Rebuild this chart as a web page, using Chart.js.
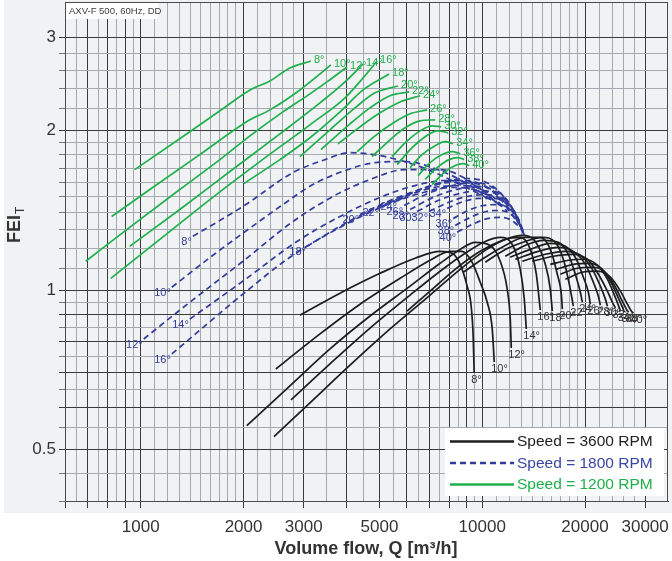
<!DOCTYPE html>
<html><head><meta charset="utf-8">
<script src="https://cdn.jsdelivr.net/npm/chart.js@4.4.0/dist/chart.umd.min.js"></script>
<style>html,body{margin:0;padding:0;background:#fff;}</style>
</head><body>
<canvas id="c" width="672" height="561" style="width:672px;height:561px;display:block"></canvas>
<script>
// ---- data (Q in m3/h, FEI_T) ----
const angles = [8,10,12,14,16,18,20,22,24,26,28,30,32,34,36,38,40];

// Speed = 3600 RPM
const q3600 = [
 [2926,3833,5021,6360,7529,8165,8617,9034,9282,9408,9472],
 [2488,3349,4387,5747,7038,8055,8734,9344,9866,10343,10699,10844],
 [2045,2735,3583,4693,6149,7529,8617,9536,10555,11292,11838,12081,12163],
 [2754,3583,4693,6149,7529,8914,10205,11292,12245,12925,13279,13460],
 [2455,3130,4101,5372,7038,8617,10205,11680,12925,13828,14401,14793],
 [6025,7038,8332,9866,11680,13101,14304,15302,15827,16042],
 [8794,10205,11680,13370,14793,15827,16593,17047,17163],
 [10205,11680,13370,14994,16372,17279,17994,18486],
 [11680,13370,15096,16705,17872,18738,19380,19644],
 [12081,13828,15827,17514,18865,19777,20456,20734],
 [12497,14596,16705,18486,20047,21159,21885,22182],
 [13101,15302,17514,19380,21016,22182,22945,23256],
 [14016,16152,18361,20318,21885,23256,24055,24548],
 [15827,17872,19911,21738,23256,24382,25049,25389],
 [16482,18486,20595,22484,23893,25049,25734,26085],
 [16932,18992,21159,23101,24548,25734,26440,26801],
 [17514,19644,21738,23732,25389,26618,27348,27720]
];
const fei3600 = [
 [0.897,0.987,1.076,1.149,1.184,1.174,1.119,1.018,0.933,0.819,0.698],
 [0.710,0.827,0.941,1.053,1.139,1.184,1.184,1.129,1.035,0.949,0.845,0.732],
 [0.555,0.660,0.775,0.894,1.018,1.124,1.194,1.231,1.215,1.134,1.004,0.882,0.778],
 [0.621,0.726,0.848,0.979,1.086,1.174,1.236,1.258,1.220,1.095,0.962,0.845],
 [0.529,0.613,0.722,0.845,0.979,1.095,1.189,1.247,1.258,1.194,1.072,0.917],
 [0.913,0.996,1.095,1.184,1.247,1.269,1.236,1.119,1.004,0.913],
 [1.081,1.154,1.215,1.258,1.258,1.194,1.072,0.983,0.921],
 [1.129,1.194,1.236,1.258,1.231,1.144,1.026,0.933],
 [1.159,1.215,1.242,1.231,1.169,1.072,0.991,0.949],
 [1.154,1.194,1.226,1.210,1.144,1.058,0.991,0.941],
 [1.144,1.184,1.205,1.184,1.119,1.035,0.974,0.937],
 [1.134,1.169,1.184,1.164,1.095,1.018,0.962,0.933],
 [1.134,1.159,1.169,1.144,1.072,0.996,0.949,0.925],
 [1.119,1.139,1.144,1.115,1.049,0.979,0.937,0.913],
 [1.095,1.119,1.124,1.095,1.031,0.966,0.929,0.909],
 [1.072,1.100,1.105,1.076,1.013,0.953,0.921,0.909],
 [1.049,1.081,1.086,1.058,0.996,0.941,0.913,0.905]
];

// Speed = 1800 RPM
const q1800 = [
 [1421,1991,2791,3464,4101,5021,6578,8617,10555],
 [1233,1627,2045,2608,3194,3965,4855,5945,7529,9219,10771],
 [1020,1392,1991,2791,3656,4693,5945,7529,9219,11066],
 [1392,1991,2867,3833,5021,6360,7788,9536,11292],
 [1233,1991,2735,3833,5194,6578,8055,9866,11523],
 [3068,3833,4855,6149,7529,8914,10555,11838],
 [4387,5372,6578,8055,9536,11066,12245],
 [5021,5945,7134,8502,10000,11445,12497],
 [5670,6578,7788,9095,10555,11838,12752],
 [5904,6943,8165,9472,10844,12081,12925],
 [6149,7182,8388,9731,11066,12245,13013],
 [6446,7429,8617,9933,11292,12412,13101],
 [6990,7947,9034,10275,11523,12581,13190],
 [7893,8794,9797,10844,11838,12666,13190],
 [8220,9095,10068,11217,12081,12838,13279],
 [8332,9219,10275,11292,12245,12925,13279],
 [8445,9344,10414,11445,12329,13013,13370]
];
const fei1800 = [
 [1.264,1.439,1.667,1.764,1.818,1.795,1.711,1.583,1.483],
 [1.013,1.164,1.297,1.451,1.583,1.682,1.741,1.749,1.682,1.576,1.470],
 [0.809,0.949,1.134,1.348,1.503,1.618,1.689,1.689,1.604,1.458],
 [0.882,1.040,1.236,1.378,1.497,1.576,1.611,1.576,1.445],
 [0.758,0.983,1.154,1.314,1.445,1.523,1.563,1.536,1.433],
 [1.210,1.320,1.427,1.516,1.570,1.576,1.516,1.408],
 [1.390,1.477,1.549,1.597,1.590,1.510,1.384],
 [1.433,1.510,1.576,1.611,1.583,1.483,1.360],
 [1.477,1.549,1.604,1.625,1.583,1.470,1.337],
 [1.445,1.523,1.576,1.597,1.556,1.451,1.320],
 [1.420,1.497,1.549,1.570,1.529,1.427,1.308],
 [1.408,1.477,1.523,1.542,1.503,1.408,1.297],
 [1.408,1.464,1.503,1.516,1.477,1.390,1.286],
 [1.427,1.470,1.490,1.490,1.451,1.372,1.280],
 [1.366,1.414,1.445,1.451,1.420,1.354,1.275],
 [1.325,1.372,1.408,1.414,1.384,1.325,1.269],
 [1.286,1.331,1.366,1.372,1.348,1.302,1.264]
];

// Speed = 1200 RPM
const q1200 = [
 [960,1300,1705,2090,2390,2735,3150],
 [822,1063,1489,2088,2389,2926,3607],
 [690,928,1301,1705,2088,2608,3130,3511,4019],
 [928,1301,1824,2556,3349,3965,4477],
 [817,1137,1594,2233,3130,3965,4477,4920],
 [2005,2556,3130,3833,4477,5336],
 [2926,3583,4242,4855,5670],
 [3372,4101,4693,5372,6107],
 [3782,4387,5021,5747,6578],
 [4299,4855,5557,6149,6896],
 [4757,5372,5945,6578,7280],
 [5445,5945,6578,7134,7580],
 [5632,6233,6804,7378,7947],
 [6149,6667,7280,7788,8220],
 [6490,7038,7631,8165,8617],
 [6804,7378,8001,8502,8853],
 [7134,7735,8332,8794,9157]
];
const fei1200 = [
 [1.689,1.931,2.181,2.388,2.484,2.628,2.708],
 [1.378,1.549,1.803,2.097,2.190,2.388,2.662],
 [1.134,1.314,1.549,1.764,1.956,2.171,2.348,2.473,2.639],
 [1.210,1.420,1.675,1.973,2.257,2.473,2.673],
 [1.053,1.247,1.483,1.749,2.052,2.308,2.516,2.708],
 [1.590,1.764,1.940,2.171,2.388,2.560],
 [1.787,2.008,2.209,2.358,2.430],
 [1.842,2.061,2.209,2.328,2.368],
 [1.890,2.034,2.162,2.267,2.328],
 [1.826,1.956,2.079,2.153,2.190],
 [1.787,1.923,2.026,2.088,2.097],
 [1.787,1.898,1.999,2.043,2.034],
 [1.726,1.858,1.948,1.999,1.982],
 [1.704,1.803,1.874,1.907,1.890],
 [1.646,1.741,1.803,1.826,1.810],
 [1.618,1.704,1.764,1.779,1.764],
 [1.583,1.667,1.719,1.734,1.719]
];

// axes
const xGrid = [600,650,700,750,800,850,900,950,1000,1100,1200,1300,1400,1500,1600,1700,1800,1900,2000,2200,2400,2600,2800,3000,3500,4000,4500,5000,5500,6000,6500,7000,7500,8000,8500,9000,9500,10000,11000,12000,13000,14000,15000,16000,17000,18000,19000,20000,22000,24000,26000,28000,30000];
const xMajor = [600,700,800,900,1000,2000,3000,4000,5000,6000,7000,8000,9000,10000,20000,30000];
const xLabels = [1000,2000,3000,5000,10000,20000,30000];
const yGrid = [0.4,0.45,0.5,0.55,0.6,0.65,0.7,0.75,0.8,0.85,0.9,0.95,1,1.1,1.2,1.3,1.4,1.5,1.6,1.7,1.8,1.9,2,2.2,2.4,2.6,2.8,3];
const yMajor = [0.5,0.6,0.7,0.8,0.9,1,2,3];
const yLabels = [0.5,1,2,3];

const speeds = [
  {name:'Speed = 3600 RPM', q:q3600, f:fei3600, color:'#1c1c1c', dash:[], label:'end'},
  {name:'Speed = 1800 RPM', q:q1800, f:fei1800, color:'#323c9c', dash:[6,4], label:'start'},
  {name:'Speed = 1200 RPM', q:q1200, f:fei1200, color:'#1fb04b', dash:[], label:'end'}
];

const DARK = '#3a3a3a', LIGHT = '#a5aab1';
const FONT = '"Liberation Sans", Arial, Helvetica, sans-serif';

const datasets = [];
[2,1,0].forEach(si => {
  const s = speeds[si];
  angles.forEach((a, i) => {
    datasets.push({
      label: s.name + ' ' + a + '°',
      data: s.q[i].map((q, k) => ({x: q, y: s.f[i][k]})),
      borderColor: s.color,
      borderWidth: 1.7,
      borderDash: s.dash,
      pointRadius: 0,
      fill: false,
      cubicInterpolationMode: 'monotone'
    });
  });
});

const decor = {
  id: 'decor',
  beforeDraw(chart) {
    const c = chart.ctx;
    c.save();
    c.fillStyle = '#ffffff'; c.fillRect(0, 0, 672, 561);
    c.fillStyle = '#f0f2f4'; c.fillRect(4, 0, 668, 513);
    c.restore();
  },
  afterDatasetsDraw(chart) {
    const c = chart.ctx, xs = chart.scales.x, ys = chart.scales.y, ca = chart.chartArea;
    c.save();
    c.font = '11px ' + FONT;
    c.textBaseline = 'middle';
    speeds.forEach((s, si) => {
      angles.forEach((a, i) => {
        const qs = s.q[i], fs = s.f[i];
        if (s.label === 'start') {
          const px = xs.getPixelForValue(qs[0]), py = ys.getPixelForValue(fs[0]);
          c.fillStyle = s.color; c.textAlign = 'right';
          c.fillText(a + '°', px - 1, py + 6);
        } else {
          const n = qs.length - 1;
          const px = xs.getPixelForValue(qs[n]), py = ys.getPixelForValue(fs[n]);
          c.fillStyle = si === 0 ? '#333333' : s.color; c.textAlign = 'left';
          if (si === 0) c.fillText(a + '°', px - 3, py + 7);
          else c.fillText(a + '°', px + 3, py - 1);
        }
      });
    });
    c.strokeStyle = '#4a4a4a'; c.lineWidth = 1;
    c.strokeRect(Math.round(ca.left) + 0.5, Math.round(ca.top) + 0.5, Math.round(ca.right - ca.left) - 1, Math.round(ca.bottom - ca.top));
    c.restore();
  },
  afterDraw(chart) {
    const c = chart.ctx;
    c.save();
    c.fillStyle = '#ffffff'; c.fillRect(66, 3, 92, 16);
    c.fillStyle = '#3a3a3a'; c.font = '9.5px ' + FONT; c.textAlign = 'left'; c.textBaseline = 'middle';
    c.fillText('AXV-F 500, 60Hz, DD', 69, 11.5);
    c.fillStyle = '#ffffff'; c.fillRect(445, 428, 219, 68);
    const rows = [441.5, 463, 484.5];
    speeds.forEach((s, i) => {
      c.strokeStyle = s.color; c.lineWidth = 2.4; c.setLineDash(s.dash);
      c.beginPath(); c.moveTo(450, rows[i]); c.lineTo(514, rows[i]); c.stroke();
      c.setLineDash([]);
      c.fillStyle = i === 0 ? '#222' : (i === 1 ? '#3a46a4' : '#1fb04b');
      c.font = '15.5px ' + FONT; c.textBaseline = 'middle'; c.textAlign = 'left';
      c.fillText(s.name, 517, rows[i] + 0.5);
    });
    c.fillStyle = '#333'; c.font = 'bold 18px ' + FONT; c.textAlign = 'center'; c.textBaseline = 'middle';
    c.fillText('Volume flow, Q [m³/h]', 366, 549);
    c.translate(15, 229); c.rotate(-Math.PI / 2);
    c.font = 'bold 18px ' + FONT; c.textAlign = 'center';
    c.fillText('FEI', 0, 0);
    c.font = '12px ' + FONT; c.textAlign = 'left';
    c.fillText('T', 15, 6);
    c.restore();
  }
};

new Chart(document.getElementById('c'), {
  type: 'line',
  data: {datasets},
  options: {
    responsive: false, animation: false, devicePixelRatio: 1,
    layout: {padding: {left: 4, right: 4, top: 2, bottom: 0}},
    plugins: {legend: {display: false}, tooltip: {enabled: false}},
    scales: {
      x: {
        type: 'logarithmic', min: 600, max: 35000, bounds: 'data',
        afterBuildTicks: s => { s.ticks = xGrid.map(v => ({value: v})); },
        afterFit: s => { s.height = 60; s.paddingLeft = 0; s.paddingRight = 0; },
        border: {display: true, color: DARK, width: 1},
        grid: {
          drawOnChartArea: true, drawTicks: true, tickLength: 7,
          color: ctx => (ctx.tick && xMajor.includes(ctx.tick.value)) ? DARK : LIGHT,
          tickColor: ctx => (ctx.tick && xMajor.includes(ctx.tick.value)) ? DARK : 'rgba(0,0,0,0)',
          lineWidth: 1
        },
        ticks: {
          autoSkip: false, maxRotation: 0, padding: 9, color: '#333',
          font: {family: FONT, size: 17},
          callback: v => xLabels.includes(v) ? String(v) : ''
        }
      },
      y: {
        type: 'logarithmic', min: 0.4, max: 3.5, bounds: 'data',
        afterBuildTicks: s => { s.ticks = yGrid.map(v => ({value: v})); },
        afterFit: s => { s.width = 61; s.paddingTop = 0; s.paddingBottom = 0; },
        border: {display: true, color: DARK, width: 1},
        grid: {
          drawOnChartArea: true, drawTicks: true, tickLength: 6,
          color: ctx => (ctx.tick && yMajor.includes(ctx.tick.value)) ? DARK : LIGHT,
          tickColor: ctx => (ctx.tick && yMajor.includes(ctx.tick.value)) ? DARK : '#777',
          lineWidth: 1
        },
        ticks: {
          autoSkip: false, padding: 3, color: '#333',
          font: {family: FONT, size: 17},
          callback: v => yLabels.includes(v) ? String(v) : ''
        }
      }
    }
  },
  plugins: [decor]
});
</script>
</body></html>
